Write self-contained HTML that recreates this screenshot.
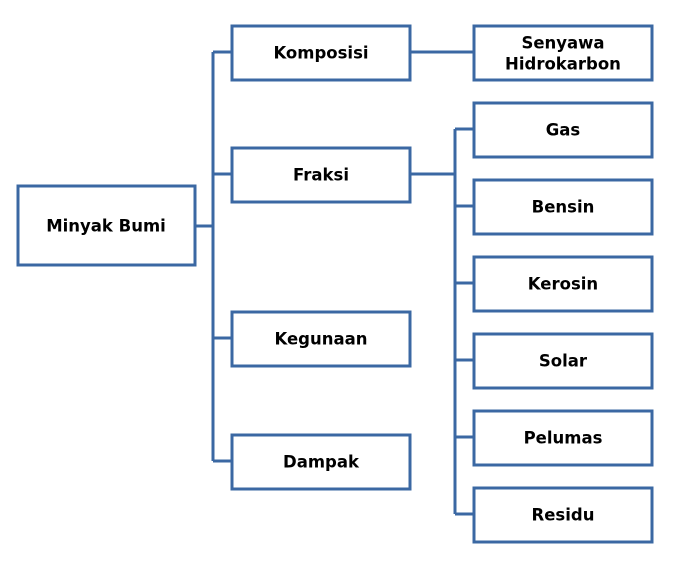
<!DOCTYPE html>
<html><head><meta charset="utf-8"><style>
body{margin:0;background:#fff}
svg text{font-family:"DejaVu Sans","Liberation Sans",sans-serif;font-weight:bold;font-size:16.5px;fill:#000;text-anchor:middle;dominant-baseline:central}
</style></head><body>
<svg width="686" height="560" xmlns="http://www.w3.org/2000/svg">
<g fill="none" stroke="#3b68a3" stroke-width="3">
<path d="M196 226H213M213 52V461M213 52H231M213 174H231M213 338H231M213 461H231"/>
<path d="M411 52H473M411 174H455M455 129V514M455 129H473M455 206H473M455 283H473M455 360H473M455 437H473M455 514H473"/>
<rect x="18" y="186" width="177" height="79"/>
<rect x="232" y="26" width="178" height="54"/>
<rect x="232" y="148" width="178" height="54"/>
<rect x="232" y="312" width="178" height="54"/>
<rect x="232" y="435" width="178" height="54"/>
<rect x="474" y="26" width="178" height="54"/>
<rect x="474" y="103" width="178" height="54"/>
<rect x="474" y="180" width="178" height="54"/>
<rect x="474" y="257" width="178" height="54"/>
<rect x="474" y="334" width="178" height="54"/>
<rect x="474" y="411" width="178" height="54"/>
<rect x="474" y="488" width="178" height="54"/>
</g>
<text x="106" y="226">Minyak Bumi</text>
<text x="321" y="53">Komposisi</text>
<text x="321" y="175">Fraksi</text>
<text x="321" y="339">Kegunaan</text>
<text x="321" y="462">Dampak</text>
<text x="563" y="43">Senyawa</text>
<text x="563" y="64">Hidrokarbon</text>
<text x="563" y="130">Gas</text>
<text x="563" y="207">Bensin</text>
<text x="563" y="284">Kerosin</text>
<text x="563" y="361">Solar</text>
<text x="563" y="438">Pelumas</text>
<text x="563" y="515">Residu</text>
</svg>
</body></html>
